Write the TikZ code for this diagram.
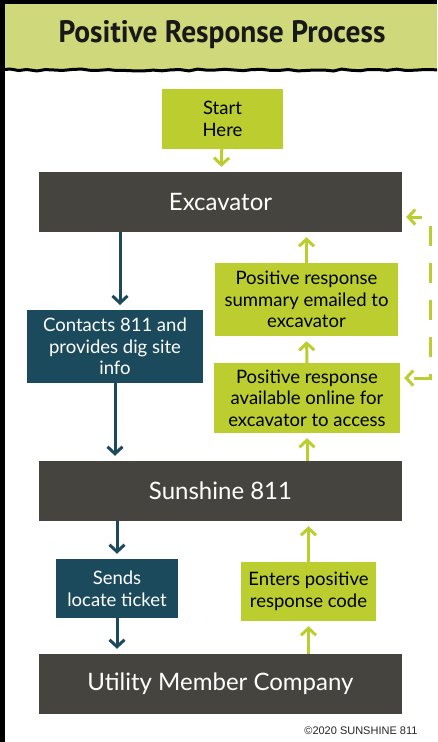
\documentclass[tikz,border=0pt]{standalone}
\usepackage{fontspec}
\setmainfont{Lato}
\newfontfamily\titlefont{PT Sans}
\newfontfamily\notefont{Liberation Sans}
\usetikzlibrary{arrows.meta,decorations.pathmorphing}
\definecolor{lime}{HTML}{BCCD30}
\definecolor{band}{HTML}{CFD97B}
\definecolor{slate}{HTML}{45443F}
\definecolor{deepteal}{HTML}{1C4A5D}
\begin{document}
\begin{tikzpicture}[x=1pt,y=-1pt,
		bigbox/.style={fill=slate,text=white,inner sep=0pt,minimum width=363pt,minimum height=60pt,font=\fontsize{24}{28}\selectfont},
		greenbox/.style={fill=lime,text=black,align=center,inner sep=0pt,font=\fontsize{18.5}{21.7}\selectfont},
		bluebox/.style={fill=deepteal,text=white,align=center,inner sep=0pt,font=\fontsize{18.5}{21.7}\selectfont},
		greenarrow/.style={draw=lime,line width=3pt,-{Straight Barb[length=7pt,width=15pt]},shorten >=5pt},
		bluearrow/.style={draw=deepteal,line width=3pt,-{Straight Barb[length=7pt,width=15pt]},shorten >=5pt}]
		\useasboundingbox (0,0) rectangle (437,742);
		% header band and frame
		\fill[band] (0,0) rectangle (437,70);
		\draw[line width=3pt,decorate,decoration={random steps,segment length=9pt,amplitude=1pt}] (0,70) -- (437,70);
		\fill[black] (0,0) rectangle (437,4);
		\fill[black] (0,0) rectangle (5,742);
		\node[text=black!90,font=\titlefont\bfseries\fontsize{31}{33}\selectfont] (title) at (222,35) {\scalebox{0.95}[1]{Positive Response Process}};
		% boxes
		\node[greenbox,minimum width=121pt,minimum height=60pt] (start) at (222.5,119) {Start\\Here};
		\node[bigbox] (exc) at (220.5,202) {Excavator};
		\node[bluebox,minimum width=176pt,minimum height=73pt] (contacts) at (115,346.5) {Contacts 811 and\\provides dig site\\info};
		\node[greenbox,minimum width=183pt,minimum height=73pt] (summary) at (306.5,299.5) {Positive response\\summary emailed to\\excavator};
		\node[greenbox,minimum width=186pt,minimum height=70pt] (avail) at (307,398) {Positive response\\available online for\\excavator to access};
		\node[bigbox] (sun) at (220.5,491) {Sunshine 811};
		\node[bluebox,minimum width=122pt,minimum height=59pt] (sends) at (117,588.5) {Sends\\locate ticket};
		\node[greenbox,minimum width=135pt,minimum height=59pt] (enters) at (308.5,591.5) {Enters positive\\response code};
		\node[bigbox] (util) at (220.5,684) {Utility Member Company};
		\node[anchor=east,text=black!85,font=\notefont\fontsize{11}{13}\selectfont] (copy) at (421,731) {©2020 SUNSHINE 811};
		% connectors
		\draw[greenarrow] (start) -- (exc);
		\draw[bluearrow] (exc.south -| 120,0) -- (120,310);
		\draw[bluearrow] (contacts.south) -- (contacts.south |- sun.north);
		\draw[greenarrow] (summary.north) -- (summary.north |- exc.south);
		\draw[greenarrow] (avail.north) -- (summary.south);
		\draw[greenarrow] (avail.south |- sun.north) -- (avail.south);
		\draw[bluearrow] (sends.north |- sun.south) -- (sends.north);
		\draw[bluearrow] (sends.south) -- (sends.south |- util.north);
		\draw[greenarrow] (enters.south |- util.north) -- (enters.south);
		\draw[greenarrow] (enters.north) -- (enters.north |- sun.south);
		\coordinate (dtop) at (430,217);
		\coordinate (dbot) at (430,378);
		\draw[greenarrow,{Straight Barb[length=7pt,width=15pt]}-{Straight Barb[length=7pt,width=15pt]},shorten <=4pt,shorten >=4pt,dash pattern=on 20pt off 17pt,dash phase=8pt] (exc.east |- dtop) -- (dtop) -- (dbot) -- (avail.east |- dbot);
\end{tikzpicture}
\end{document}
